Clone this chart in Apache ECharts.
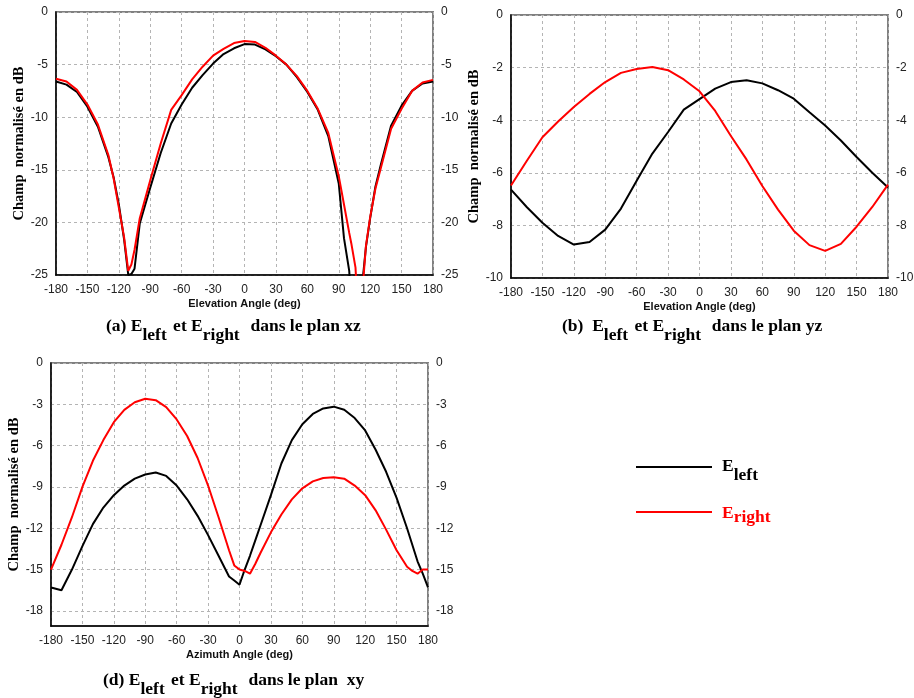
<!DOCTYPE html>
<html>
<head>
<meta charset="utf-8">
<script src="https://cdn.jsdelivr.net/npm/echarts@6/dist/echarts.min.js"></script>
<style>
html,body{margin:0;padding:0;background:#fff;}
#chart{width:914px;height:698px;}
</style>
</head>
<body>
<div id="chart"></div>
<script>
// ---------- DATA ----------
// (a) plan xz
const anglesA = [-180,-170,-160,-150,-140,-130,-125,-120,-115,-111,-108,-105,-100,-95,-90,-80,-70,-60,-50,-40,-30,-20,-10,0,10,20,30,40,50,60,70,80,90,95,100,102,106,110,113,116,120,125,130,140,150,160,170,180];
const leftA   = [-6.6,-6.9,-7.6,-9.0,-10.9,-13.8,-15.7,-18.3,-21.6,-25.0,-24.9,-24.4,-20.1,-18.4,-16.7,-13.4,-10.6,-8.8,-7.2,-6.0,-4.9,-4.0,-3.45,-3.05,-3.1,-3.55,-4.2,-5.0,-6.2,-7.6,-9.3,-11.8,-16.3,-21.5,-24.6,-28,-40,-40,-25.3,-22.3,-19.6,-16.6,-14.6,-10.8,-8.9,-7.5,-6.8,-6.6];
const rightA  = [-6.35,-6.6,-7.4,-8.8,-10.7,-13.6,-15.8,-18.6,-21.4,-24.6,-24.0,-22.6,-19.6,-17.8,-16.0,-12.5,-9.3,-7.9,-6.4,-5.2,-4.15,-3.5,-2.95,-2.75,-2.85,-3.4,-4.15,-5.0,-6.1,-7.5,-9.2,-11.5,-15.6,-18.3,-21.0,-22.0,-24.3,-32,-26,-22.2,-19.5,-16.8,-14.9,-11.1,-9.2,-7.5,-6.7,-6.45];

// (b) plan yz
const anglesB = [-180,-165,-150,-135,-120,-105,-90,-75,-60,-45,-30,-15,0,15,30,45,60,75,90,105,120,135,150,165,180];
const leftB   = [-6.64,-7.3,-7.9,-8.4,-8.73,-8.63,-8.16,-7.36,-6.3,-5.27,-4.45,-3.6,-3.2,-2.8,-2.55,-2.48,-2.6,-2.86,-3.18,-3.7,-4.2,-4.77,-5.4,-6.0,-6.56];
const rightB  = [-6.48,-5.55,-4.65,-4.05,-3.5,-3.0,-2.55,-2.2,-2.05,-1.98,-2.1,-2.45,-2.9,-3.65,-4.6,-5.5,-6.5,-7.4,-8.2,-8.75,-8.97,-8.7,-8.05,-7.3,-6.45];

// (d) plan xy
const anglesD = [-180,-170,-160,-150,-140,-130,-120,-110,-100,-90,-80,-70,-60,-50,-40,-30,-20,-10,-5,0,5,10,15,20,30,40,50,60,70,80,90,100,110,120,130,140,150,160,165,170,175,180];
const leftD   = [-16.3,-16.5,-15.0,-13.3,-11.7,-10.5,-9.6,-8.9,-8.4,-8.1,-7.95,-8.2,-8.9,-9.9,-11.1,-12.5,-14.0,-15.5,-15.8,-16.1,-15.0,-14.0,-12.9,-11.8,-9.6,-7.3,-5.6,-4.45,-3.7,-3.3,-3.17,-3.4,-4.0,-4.9,-6.3,-7.9,-9.8,-12.0,-13.2,-14.4,-15.3,-16.3];
const rightD  = [-15.0,-13.2,-11.2,-9.0,-7.1,-5.6,-4.3,-3.4,-2.85,-2.6,-2.7,-3.2,-4.1,-5.3,-6.9,-8.9,-11.2,-13.6,-14.7,-15.0,-15.1,-15.3,-14.6,-13.8,-12.3,-11.0,-9.9,-9.1,-8.6,-8.35,-8.3,-8.4,-8.9,-9.6,-10.7,-12.1,-13.6,-14.8,-15.1,-15.3,-15.0,-15.0];

// ticks
const yTicksD = [0,-3,-6,-9,-12,-15,-18];

// texts
const yName = 'Champ  normalisé en dB';
const xNameElev = 'Elevation Angle (deg)';
const xNameAzim = 'Azimuth Angle (deg)';
const captionA = [['(a) E',0],['left',1],[' et E',0],['right',1],['  dans le plan xz',0]];
const captionB = [['(b)  E',0],['left',1],[' et E',0],['right',1],['  dans le plan yz',0]];
const captionD = [['(d) E',0],['left',1],[' et E',0],['right',1],['  dans le plan  xy',0]];
const legendLeft = [['E',0],['left',1]];
const legendRight = [['E',0],['right',1]];

// ---------- STYLE ----------
const SERIF = '"Liberation Serif","Times New Roman",serif';
const SANS = '"Liberation Sans",Arial,sans-serif';
const CAP_SIZE = 17.5;
const capFont = 'bold ' + CAP_SIZE + 'px ' + SERIF;

const measureCtx = document.createElement('canvas').getContext('2d');
function textW(t, font){ measureCtx.font = font; return measureCtx.measureText(t).width; }

function richLine(x, yMid, parts, color, subOff){
  const els = [];
  let cx = x;
  parts.forEach(([t, sub]) => {
    els.push({
      type:'text', silent:true,
      style:{ text:t, x:cx, y:yMid + (sub ? subOff : 0), font:capFont, fill:color,
              textAlign:'left', textVerticalAlign:'middle', verticalAlign:'middle' }
    });
    cx += textW(t, capFont) + (sub ? 2 : 0);
  });
  return els;
}

function xAxisOf(gridIndex, name){
  return {
    type:'value', gridIndex, min:-180, max:180, interval:30, position:'bottom',
    name, nameLocation:'middle', nameGap:23,
    nameTextStyle:{ fontFamily:SANS, fontWeight:'bold', fontSize:11, color:'#111' },
    axisLine:{ show:true, onZero:false, lineStyle:{ color:'#000', width:1.5 } },
    axisTick:{ show:false },
    axisLabel:{ fontFamily:SANS, fontSize:12, color:'#222', margin:9 },
    splitLine:{ show:true, lineStyle:{ color:'#b4b4b4', type:[3,3], width:1 } }
  };
}
function yAxesOf(gridIndex, min, interval, custom){
  const lbl = { fontFamily:SANS, fontSize:12, color:'#222', margin:8 };
  const tick = { show:false };
  if (custom){ lbl.customValues = custom; tick.customValues = custom; }
  const left = {
    type:'value', gridIndex, min, max:0, position:'left',
    name:yName, nameLocation:'middle', nameGap:29, nameRotate:90,
    nameTextStyle:{ fontFamily:SERIF, fontWeight:'bold', fontSize:14.5, color:'#000' },
    axisLine:{ show:true, onZero:false, lineStyle:{ color:'#000', width:1.5 } },
    axisTick:tick, axisLabel:lbl,
    splitLine:{ show:true, lineStyle:{ color:'#b4b4b4', type:[3,3], width:1 } }
  };
  const right = {
    type:'value', gridIndex, min, max:0, position:'right',
    axisLine:{ show:false }, axisTick:Object.assign({}, tick), axisLabel:Object.assign({}, lbl),
    splitLine:{ show:false }
  };
  if (!custom){ left.interval = interval; right.interval = interval; }
  return [left, right];
}
function pairs(xs, ys){ return xs.map((x,i)=>[x, ys[i]]); }
function lineSeries(name, xi, yi, data, color){
  return { name, type:'line', xAxisIndex:xi, yAxisIndex:yi, data, showSymbol:false, symbol:'none',
           clip:true, silent:true, animation:false,
           lineStyle:{ color, width:2 }, itemStyle:{ color } };
}

const gridBase = { show:true, borderColor:'#808080', borderWidth:2, backgroundColor:'transparent', containLabel:false, outerBoundsMode:'none' };

const yA = yAxesOf(0, -25, 5);
const yB = yAxesOf(1, -10, 2);
const yD = yAxesOf(2, -19.1, 3, yTicksD);

const graphics = []
  .concat(richLine(106, 326, captionA, '#000', 9))
  .concat(richLine(562, 326, captionB, '#000', 9))
  .concat(richLine(103, 680, captionD, '#000', 9))
  .concat(richLine(722, 466, legendLeft, '#000', 9))
  .concat(richLine(722, 513, legendRight, '#ff0000', 4));
graphics.push({ type:'line', silent:true, shape:{x1:636,y1:467,x2:712,y2:467}, style:{stroke:'#000', lineWidth:2} });
graphics.push({ type:'line', silent:true, shape:{x1:636,y1:512,x2:712,y2:512}, style:{stroke:'#ff0000', lineWidth:2} });

const option = {
  backgroundColor:'#fff',
  animation:false,
  grid:[
    Object.assign({ left:56, top:12, width:377, height:263 }, gridBase),
    Object.assign({ left:511, top:15, width:377, height:263 }, gridBase),
    Object.assign({ left:51, top:363, width:377, height:263 }, gridBase)
  ],
  xAxis:[ xAxisOf(0, xNameElev), xAxisOf(1, xNameElev), xAxisOf(2, xNameAzim) ],
  yAxis:[ yA[0], yA[1], yB[0], yB[1], yD[0], yD[1] ],
  series:[
    lineSeries('E left', 0, 0, pairs(anglesA, leftA), '#000'),
    lineSeries('E right', 0, 0, pairs(anglesA, rightA), '#ff0000'),
    lineSeries('E left', 1, 2, pairs(anglesB, leftB), '#000'),
    lineSeries('E right', 1, 2, pairs(anglesB, rightB), '#ff0000'),
    lineSeries('E left', 2, 4, pairs(anglesD, leftD), '#000'),
    lineSeries('E right', 2, 4, pairs(anglesD, rightD), '#ff0000')
  ],
  graphic: graphics
};

const chart = echarts.init(document.getElementById('chart'), null, { renderer:'canvas' });
chart.setOption(option);
</script>
</body>
</html>
